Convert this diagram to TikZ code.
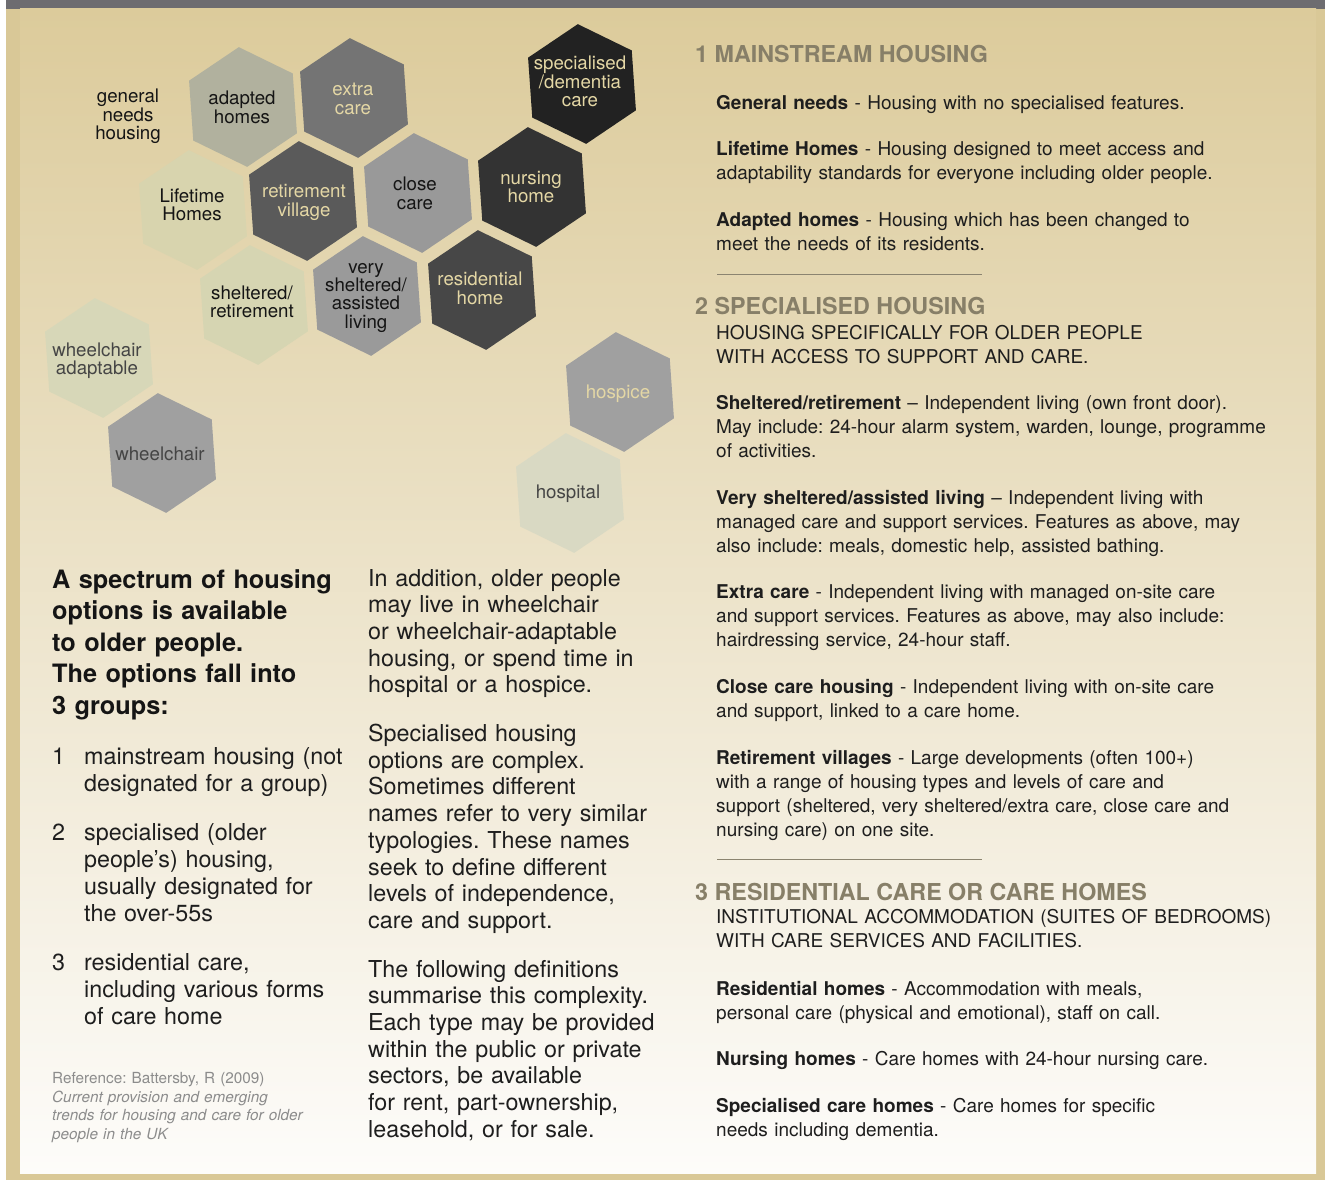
\documentclass[tikz,border=0pt]{standalone}
\usepackage{fontspec}
\setmainfont{TeX Gyre Heros}
\setlength{\lineskiplimit}{-50pt}
\frenchspacing
\definecolor{topbar}{HTML}{6D6C70}
\definecolor{framec}{HTML}{D9C897}
\definecolor{panelTop}{HTML}{DCCB9B}
\definecolor{panelBot}{HTML}{FDFCFA}
\definecolor{headc}{HTML}{877F68}
\definecolor{bodyc}{HTML}{1E1E1E}
\definecolor{beigeTxt}{HTML}{E4D7A5}
\definecolor{darkTxt}{HTML}{151515}
\definecolor{greyTxt}{HTML}{454545}
\definecolor{refc}{HTML}{8C8C8C}
\definecolor{divc}{HTML}{8B8470}
\definecolor{hAdapted}{HTML}{B1B19E}
\definecolor{hExtra}{HTML}{747474}
\definecolor{hSpecial}{HTML}{222222}
\definecolor{hNursing}{HTML}{333333}
\definecolor{hClose}{HTML}{999999}
\definecolor{hVillage}{HTML}{5A5A5A}
\definecolor{hLifetime}{HTML}{D8D4AE}
\definecolor{hSheltered}{HTML}{D6D5B2}
\definecolor{hVery}{HTML}{9A9A9A}
\definecolor{hResid}{HTML}{474747}
\definecolor{hWadapt}{HTML}{D7D7B8}
\definecolor{hWheel}{HTML}{A0A0A0}
\definecolor{hHospice}{HTML}{A0A0A0}
\definecolor{hHospital}{HTML}{D9D9C3}
\tikzset{
  hexlabel/.style={anchor=base, inner sep=0pt, text width=120pt, align=center,
    font=\frenchspacing\fontsize{18.7}{18.3}\selectfont},
  body/.style={anchor=base west, inner sep=0pt, text width=600pt, align=left,
    font=\frenchspacing\fontsize{19}{24}\selectfont, text=bodyc},
  rhead/.style={anchor=base west, inner sep=0pt,
    font=\bfseries\fontsize{23.3}{24}\selectfont, text=headc},
  lhead/.style={anchor=base west, inner sep=0pt, text width=320pt, align=left,
    font=\frenchspacing\bfseries\fontsize{25.3}{31.5}\selectfont, text=darkTxt},
  lnum/.style={anchor=base west, inner sep=0pt,
    font=\fontsize{23.3}{27}\selectfont, text=bodyc},
  ltext/.style={anchor=base west, inner sep=0pt, text width=280pt, align=left,
    font=\frenchspacing\fontsize{23.3}{27}\selectfont, text=bodyc},
  mtext/.style={anchor=base west, inner sep=0pt, text width=300pt, align=left,
    font=\frenchspacing\fontsize{23.3}{26.7}\selectfont, text=bodyc},
  reftext/.style={anchor=base west, inner sep=0pt, text width=300pt, align=left,
    font=\frenchspacing\fontsize{15.3}{18.7}\selectfont, text=refc},
  divider/.style={draw=divc, line width=1pt}
}
% #1 name, #2 cx, #3 cy, #4 fill, #5 text colour, #6 label x, #7 label baseline, #8 text
\newcommand\hexcell[8]{%
  \fill[#4, shift={(#2,#3)}] (266:60) -- (326:60) -- (26:60) -- (86:60) -- (146:60) -- (206:60) -- cycle;
  \node[hexlabel, text=#5] (#1) at (#6,#7) {#8};
}
\begin{document}
\begin{tikzpicture}[x=1pt,y=-1pt]
\useasboundingbox (0,0) rectangle (1325,1180);
% background and frame
\fill[white] (0,0) rectangle (1325,1180);
\fill[framec] (6,0) rectangle (1325,1180);
\fill[topbar] (6,0) rectangle (1325,9);
\shade[top color=panelTop, bottom color=panelBot] (20,9) rectangle (1316,1173.5);

% hexagons
\node[hexlabel, text=darkTxt] (general) at (128,102.7) {general\\needs\\housing};
\hexcell{adapted}{243}{107}{hAdapted}{darkTxt}{242}{105}{adapted\\homes}
\hexcell{extra}{354}{98}{hExtra}{beigeTxt}{353}{96}{extra\\care}
\hexcell{special}{582}{84}{hSpecial}{beigeTxt}{580}{70}{specialised\\/dementia\\care}
\hexcell{nursing}{532}{187}{hNursing}{beigeTxt}{531}{184}{nursing\\home}
\hexcell{close}{418}{193}{hClose}{darkTxt}{415}{190.7}{close\\care}
\hexcell{village}{303}{201}{hVillage}{beigeTxt}{304}{197.7}{retirement\\village}
\hexcell{lifetime}{193}{210}{hLifetime}{darkTxt}{192}{202}{Lifetime\\Homes}
\hexcell{sheltered}{254}{305}{hSheltered}{darkTxt}{252}{299.3}{sheltered/\\retirement}
\hexcell{verysh}{367}{296}{hVery}{darkTxt}{366}{273.3}{very\\sheltered/\\assisted\\living}
\hexcell{resid}{482}{290}{hResid}{beigeTxt}{480}{285.7}{residential\\home}
\hexcell{wadapt}{99}{358}{hWadapt}{greyTxt}{97}{356}{wheelchair\\adaptable}
\hexcell{wheel}{162}{453}{hWheel}{greyTxt}{160}{460}{wheelchair}
\hexcell{hospice}{620}{392}{hHospice}{beigeTxt}{618}{398.3}{hospice}
\hexcell{hospital}{570}{493}{hHospital}{greyTxt}{568}{498.3}{hospital}

% left column
\node[lhead] (intro) at (52,588) {A spectrum of housing\\options is available\\to older people.\\The options fall into\\3 groups:};
\node[lnum] (n1) at (52,764.3) {1};
\node[ltext] (t1) at (84,764.3) {mainstream housing (not\\designated for a group)};
\node[lnum] (n2) at (52,840) {2};
\node[ltext] (t2) at (84,840) {specialised (older\\people’s) housing,\\usually designated for\\the over-55s};
\node[lnum] (n3) at (52,970) {3};
\node[ltext] (t3) at (84,970) {residential care,\\including various forms\\of care home};
\node[reftext] (ref) at (52,1083.3) {Reference: Battersby, R (2009)\\\textit{Current provision and emerging}\\\textit{trends for housing and care for older}\\\textit{people in the UK}};

% middle column
\node[mtext] (m1) at (368,586) {In addition, older people\\may live in wheelchair\\or wheelchair-adaptable\\housing, or spend time in\\hospital or a hospice.};
\node[mtext] (m2) at (368,741.5) {Specialised housing\\options are complex.\\Sometimes different\\names refer to very similar\\typologies. These names\\seek to define different\\levels of independence,\\care and support.};
\node[mtext] (m3) at (368,977) {The following definitions\\summarise this complexity.\\Each type may be provided\\within the public or private\\sectors, be available\\for rent, part-ownership,\\leasehold, or for sale.};

% right column
\node[rhead] (h1) at (695,63) {1 MAINSTREAM HOUSING};
\node[body] (gn) at (716,110) {\textbf{General needs} - Housing with no specialised features.};
\node[body] (lt) at (716,155.5) {\textbf{Lifetime Homes} - Housing designed to meet access and\\adaptability standards for everyone including older people.};
\node[body] (ah) at (716,226.5) {\textbf{Adapted homes} - Housing which has been changed to\\meet the needs of its residents.};
\coordinate (d1a) at (717,274);
\coordinate (d1b) at (982,274);
\draw[divider] (d1a) -- (d1b);
\node[rhead] (h2) at (695,314) {2 SPECIALISED HOUSING};
\node[body] (h2s) at (716,339) {HOUSING SPECIFICALLY FOR OLDER PEOPLE\\WITH ACCESS TO SUPPORT AND CARE.};
\node[body] (sr) at (716,409.5) {\textbf{Sheltered/retirement} – Independent living (own front door).\\May include: 24-hour alarm system, warden, lounge, programme\\of activities.};
\node[body] (vs) at (716,504.5) {\textbf{Very sheltered/assisted living} – Independent living with\\managed care and support services. Features as above, may\\also include: meals, domestic help, assisted bathing.};
\node[body] (ec) at (716,598.5) {\textbf{Extra care} - Independent living with managed on-site care\\and support services. Features as above, may also include:\\hairdressing service, 24-hour staff.};
\node[body] (cc) at (716,693.5) {\textbf{Close care housing} - Independent living with on-site care\\and support, linked to a care home.};
\node[body] (rv) at (716,764.5) {\textbf{Retirement villages} - Large developments (often 100+)\\with a range of housing types and levels of care and\\support (sheltered, very sheltered/extra care, close care and\\nursing care) on one site.};
\coordinate (d2a) at (717,859);
\coordinate (d2b) at (982,859);
\draw[divider] (d2a) -- (d2b);
\node[rhead] (h3) at (695,900) {3 RESIDENTIAL CARE OR CARE HOMES};
\node[body] (h3s) at (716,923.5) {INSTITUTIONAL ACCOMMODATION (SUITES OF BEDROOMS)\\WITH CARE SERVICES AND FACILITIES.};
\node[body] (rh) at (716,995.5) {\textbf{Residential homes} - Accommodation with meals,\\personal care (physical and emotional), staff on call.};
\node[body] (nh) at (716,1065.5) {\textbf{Nursing homes} - Care homes with 24-hour nursing care.};
\node[body] (sc) at (716,1112.5) {\textbf{Specialised care homes} - Care homes for specific\\needs including dementia.};
\end{tikzpicture}
\end{document}
